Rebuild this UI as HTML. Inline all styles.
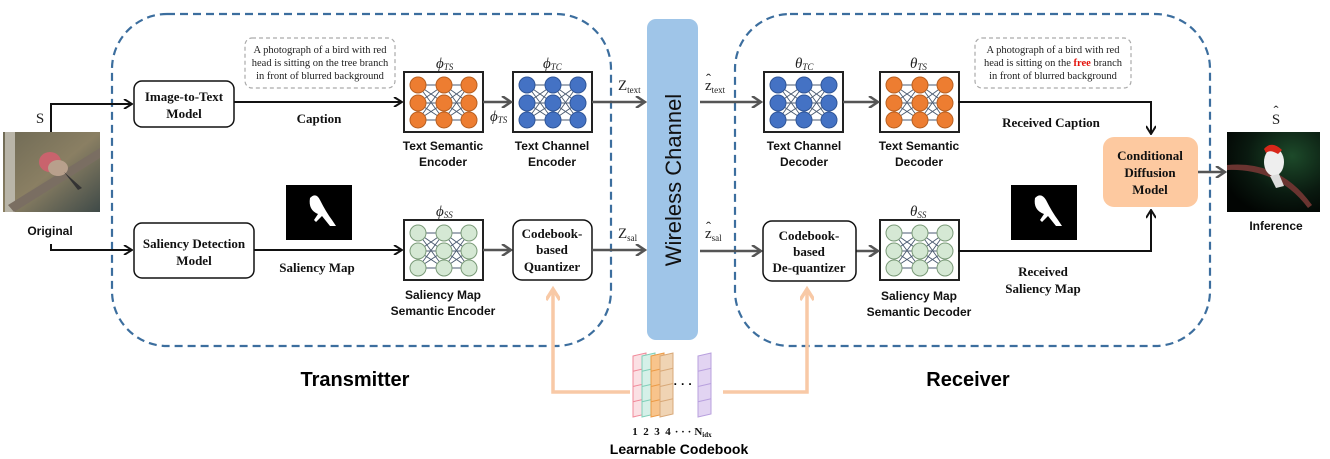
<!DOCTYPE html>
<html><head><meta charset="utf-8"><style>
html,body{margin:0;padding:0;background:#fff;}
svg{display:block;}
.sb{font-family:"Liberation Serif",serif;font-weight:bold;font-size:13px;fill:#111;}
.sa{font-family:"Liberation Sans",sans-serif;font-weight:bold;font-size:12px;fill:#111;}
.cap{font-family:"Liberation Serif",serif;font-size:10.5px;fill:#222;}
.it{font-family:"Liberation Serif",serif;font-style:italic;font-size:15px;fill:#222;}
.sub{font-size:9px;}
.z{font-family:"Liberation Serif",serif;font-size:15px;fill:#222;}
</style></head><body>
<svg width="1330" height="459" viewBox="0 0 1330 459" xmlns="http://www.w3.org/2000/svg">
<defs>
<marker id="ab" markerWidth="10" markerHeight="10" refX="9" refY="5" orient="auto" markerUnits="userSpaceOnUse"><path d="M1,0 L9,5 L1,10" fill="none" stroke="#111" stroke-width="2"/></marker>
<marker id="ag" markerWidth="12" markerHeight="12" refX="10" refY="6" orient="auto" markerUnits="userSpaceOnUse"><path d="M1,0 L10,6 L1,12" fill="none" stroke="#555" stroke-width="2.5"/></marker>
<marker id="ap" markerWidth="16" markerHeight="14" refX="12" refY="7" orient="auto" markerUnits="userSpaceOnUse"><path d="M1,0 L12,7 L1,14" fill="none" stroke="#f8c9a6" stroke-width="3.5"/></marker>
<linearGradient id="bg1" x1="0" y1="0" x2="1" y2="1"><stop offset="0" stop-color="#6f6a55"/><stop offset="0.5" stop-color="#8a7f63"/><stop offset="1" stop-color="#3f4a48"/></linearGradient>
<radialGradient id="bg2" cx="0.7" cy="0.3" r="0.8"><stop offset="0" stop-color="#1d4a2a"/><stop offset="0.6" stop-color="#0a1a10"/><stop offset="1" stop-color="#020503"/></radialGradient>
</defs>

<rect x="112" y="14" width="499" height="332" rx="55" fill="none" stroke="#3c6e9e" stroke-width="2.2" stroke-dasharray="8,5"/>
<rect x="735" y="14" width="475" height="332" rx="55" fill="none" stroke="#3c6e9e" stroke-width="2.2" stroke-dasharray="8,5"/>

<rect x="647" y="19" width="51" height="321" rx="9" fill="#9fc5e8"/>
<text transform="translate(681,180) rotate(-90)" text-anchor="middle" font-family="Liberation Sans,sans-serif" font-size="22" fill="#111">Wireless Channel</text>

<rect x="3" y="132" width="97" height="80" fill="url(#bg1)"/>
<rect x="5" y="132" width="10" height="80" fill="#b9b5a8"/>
<path d="M8,205 L100,148 L100,158 L14,212 Z" fill="#7a6e62"/>
<ellipse cx="50" cy="162" rx="11" ry="10" fill="#c9636d"/>
<ellipse cx="58" cy="168" rx="10" ry="8" fill="#b8a08c"/>
<path d="M64,172 L82,188 L78,190 Z" fill="#333"/>
<text x="40" y="123" text-anchor="middle" class="z" font-size="15">S</text>
<text x="50" y="235" text-anchor="middle" class="sa">Original</text>

<rect x="1227" y="132" width="93" height="80" fill="url(#bg2)"/>
<path d="M1227,165 Q1280,160 1312,205 L1308,208 Q1278,168 1227,170 Z" fill="#6a3430"/>
<ellipse cx="1274" cy="162" rx="10" ry="14" fill="#eee"/>
<path d="M1264,149 Q1272,140 1282,150 L1278,154 Q1270,149 1266,153 Z" fill="#d8271a"/>
<path d="M1270,176 L1276,188 L1284,186 L1279,174 Z" fill="#ddd"/>
<text x="1276" y="124" text-anchor="middle" class="z" font-size="15">S</text>
<text x="1276" y="116" text-anchor="middle" class="z" font-size="13">ˆ</text>
<text x="1276" y="230" text-anchor="middle" class="sa">Inference</text>

<polyline points="51,132 51,104 132,104" fill="none" stroke="#111" stroke-width="2" marker-end="url(#ab)"/>
<polyline points="51,244 51,250 132,250" fill="none" stroke="#111" stroke-width="2" marker-end="url(#ab)"/>

<rect x="134" y="81" width="100" height="46" rx="8" fill="#fff" stroke="#111" stroke-width="1.5"/>
<text x="184" y="101" text-anchor="middle" class="sb">Image-to-Text</text>
<text x="184" y="118" text-anchor="middle" class="sb">Model</text>

<rect x="134" y="223" width="120" height="55" rx="8" fill="#fff" stroke="#111" stroke-width="1.5"/>
<text x="194" y="248" text-anchor="middle" class="sb">Saliency Detection</text>
<text x="194" y="265" text-anchor="middle" class="sb">Model</text>

<rect x="245" y="38" width="150" height="50" rx="7" fill="none" stroke="#aaa" stroke-width="1.2" stroke-dasharray="4,3"/>
<text x="320" y="53" text-anchor="middle" class="cap">A photograph of a bird with red</text>
<text x="320" y="66" text-anchor="middle" class="cap">head is sitting on the tree branch</text>
<text x="320" y="79" text-anchor="middle" class="cap">in front of blurred background</text>

<line x1="234" y1="102" x2="402" y2="102" stroke="#111" stroke-width="2" marker-end="url(#ab)"/>
<text x="319" y="123" text-anchor="middle" class="sb">Caption</text>

<rect x="286" y="185" width="66" height="55" fill="#000"/>
<path d="M310,198 Q316,192 320,200 Q326,212 332,220 L336,226 L330,226 L322,216 L316,222 L314,220 L318,214 Q308,210 310,198 Z" fill="#fff"/>
<line x1="254" y1="250" x2="402" y2="250" stroke="#111" stroke-width="2" marker-end="url(#ab)"/>
<text x="317" y="272" text-anchor="middle" class="sb">Saliency Map</text>

<g id="nets"></g>

<text x="443" y="150" text-anchor="middle" class="sa">Text Semantic</text>
<text x="443" y="166" text-anchor="middle" class="sa">Encoder</text>
<text x="552" y="150" text-anchor="middle" class="sa">Text Channel</text>
<text x="552" y="166" text-anchor="middle" class="sa">Encoder</text>
<text x="443" y="299" text-anchor="middle" class="sa">Saliency Map</text>
<text x="443" y="315" text-anchor="middle" class="sa">Semantic Encoder</text>

<text x="436" y="68" class="it">ϕ<tspan class="sub" dy="2">TS</tspan></text>
<text x="543" y="68" class="it">ϕ<tspan class="sub" dy="2">TC</tspan></text>
<text x="490" y="121" class="it">ϕ<tspan class="sub" dy="2">TS</tspan></text>
<text x="436" y="216" class="it">ϕ<tspan class="sub" dy="2">SS</tspan></text>

<line x1="483" y1="102" x2="511" y2="102" stroke="#555" stroke-width="2.5" marker-end="url(#ag)"/>
<line x1="483" y1="250" x2="511" y2="250" stroke="#555" stroke-width="2.5" marker-end="url(#ag)"/>

<rect x="513" y="220" width="79" height="60" rx="9" fill="#fff" stroke="#111" stroke-width="1.5"/>
<text x="552" y="238" text-anchor="middle" class="sb">Codebook-</text>
<text x="552" y="254" text-anchor="middle" class="sb">based</text>
<text x="552" y="271" text-anchor="middle" class="sb">Quantizer</text>

<line x1="592" y1="102" x2="645" y2="102" stroke="#555" stroke-width="2.5" marker-end="url(#ag)"/>
<line x1="592" y1="250" x2="645" y2="250" stroke="#555" stroke-width="2.5" marker-end="url(#ag)"/>
<text x="618" y="90" class="z">Z<tspan class="sub" font-size="11" dy="3">text</tspan></text>
<text x="618" y="238" class="z">Z<tspan class="sub" font-size="11" dy="3">sal</tspan></text>

<line x1="700" y1="102" x2="761" y2="102" stroke="#555" stroke-width="2.5" marker-end="url(#ag)"/>
<line x1="700" y1="251" x2="761" y2="251" stroke="#555" stroke-width="2.5" marker-end="url(#ag)"/>
<text x="705" y="90" class="z">z<tspan class="sub" font-size="11" dy="3">text</tspan></text>
<text x="706" y="84" class="z" font-size="13">ˆ</text>
<text x="705" y="238" class="z">z<tspan class="sub" font-size="11" dy="3">sal</tspan></text>
<text x="706" y="232" class="z" font-size="13">ˆ</text>

<line x1="843" y1="102" x2="878" y2="102" stroke="#555" stroke-width="2.5" marker-end="url(#ag)"/>
<line x1="856" y1="251" x2="878" y2="251" stroke="#555" stroke-width="2.5" marker-end="url(#ag)"/>

<rect x="763" y="221" width="93" height="60" rx="9" fill="#fff" stroke="#111" stroke-width="1.5"/>
<text x="809" y="240" text-anchor="middle" class="sb">Codebook-</text>
<text x="809" y="256" text-anchor="middle" class="sb">based</text>
<text x="809" y="272" text-anchor="middle" class="sb">De-quantizer</text>

<text x="795" y="68" class="it">θ<tspan class="sub" dy="2">TC</tspan></text>
<text x="910" y="68" class="it">θ<tspan class="sub" dy="2">TS</tspan></text>
<text x="910" y="216" class="it">θ<tspan class="sub" dy="2">SS</tspan></text>

<text x="804" y="150" text-anchor="middle" class="sa">Text Channel</text>
<text x="804" y="166" text-anchor="middle" class="sa">Decoder</text>
<text x="919" y="150" text-anchor="middle" class="sa">Text Semantic</text>
<text x="919" y="166" text-anchor="middle" class="sa">Decoder</text>
<text x="919" y="300" text-anchor="middle" class="sa">Saliency Map</text>
<text x="919" y="316" text-anchor="middle" class="sa">Semantic Decoder</text>

<rect x="975" y="38" width="156" height="50" rx="7" fill="none" stroke="#aaa" stroke-width="1.2" stroke-dasharray="4,3"/>
<text x="1053" y="53" text-anchor="middle" class="cap">A photograph of a bird with red</text>
<text x="1053" y="66" text-anchor="middle" class="cap">head is sitting on the <tspan fill="#e3120b" font-weight="bold">free</tspan> branch</text>
<text x="1053" y="79" text-anchor="middle" class="cap">in front of blurred background</text>

<polyline points="958,102 1151,102 1151,134" fill="none" stroke="#111" stroke-width="2" marker-end="url(#ab)"/>
<polyline points="958,251 1151,251 1151,210" fill="none" stroke="#111" stroke-width="2" marker-end="url(#ab)"/>
<text x="1051" y="127" text-anchor="middle" class="sb">Received Caption</text>
<text x="1043" y="276" text-anchor="middle" class="sb">Received</text>
<text x="1043" y="293" text-anchor="middle" class="sb">Saliency Map</text>

<rect x="1011" y="185" width="66" height="55" fill="#000"/>
<path d="M1035,198 Q1041,192 1046,200 Q1052,212 1058,220 L1062,226 L1056,226 L1048,216 L1042,222 L1040,220 L1044,214 Q1033,210 1035,198 Z" fill="#fff"/>

<rect x="1103" y="137" width="95" height="70" rx="11" fill="#fdc9a0"/>
<text x="1150" y="160" text-anchor="middle" class="sb">Conditional</text>
<text x="1150" y="177" text-anchor="middle" class="sb">Diffusion</text>
<text x="1150" y="194" text-anchor="middle" class="sb">Model</text>
<line x1="1198" y1="172" x2="1225" y2="172" stroke="#555" stroke-width="2.5" marker-end="url(#ag)"/>

<polyline points="630,392 553,392 553,289" fill="none" stroke="#f8c9a6" stroke-width="3.5" marker-end="url(#ap)"/>
<polyline points="723,392 807,392 807,289" fill="none" stroke="#f8c9a6" stroke-width="3.5" marker-end="url(#ap)"/>

<g id="cb"></g>
<text x="683" y="388" text-anchor="middle" font-family="Liberation Sans,sans-serif" font-size="12" font-weight="bold">· · ·</text>
<g font-family="Liberation Serif,serif" font-weight="bold" font-size="11" fill="#111" text-anchor="middle">
<text x="635" y="435">1</text><text x="646" y="435">2</text><text x="657" y="435">3</text><text x="668" y="435">4</text>
<text x="683" y="435">· · ·</text><text x="703" y="435">N<tspan font-size="7" dy="2">idx</tspan></text>
</g>
<text x="679" y="454" text-anchor="middle" font-family="Liberation Sans,sans-serif" font-weight="bold" font-size="14">Learnable Codebook</text>

<text x="355" y="386" text-anchor="middle" font-family="Liberation Sans,sans-serif" font-weight="bold" font-size="20">Transmitter</text>
<text x="968" y="386" text-anchor="middle" font-family="Liberation Sans,sans-serif" font-weight="bold" font-size="20">Receiver</text>
</svg>
<script>
(function(){
var NS="http://www.w3.org/2000/svg";
var g=document.getElementById("nets");
function el(t,a){var e=document.createElementNS(NS,t);for(var k in a)e.setAttribute(k,a[k]);return e;}
function net(x,y,fill,stroke){
 g.appendChild(el("rect",{x:x,y:y,width:79,height:60,fill:"#fff",stroke:"#222","stroke-width":2}));
 var cx=[x+14,x+40,x+65],cy=[y+13,y+31,y+48];
 for(var c=0;c<2;c++)for(var i=0;i<3;i++)for(var j=0;j<3;j++)
  g.appendChild(el("line",{x1:cx[c],y1:cy[i],x2:cx[c+1],y2:cy[j],stroke:"#4a5a70","stroke-width":0.9}));
 for(var c=0;c<3;c++)for(var i=0;i<3;i++)
  g.appendChild(el("circle",{cx:cx[c],cy:cy[i],r:8,fill:fill,stroke:stroke,"stroke-width":1}));
}
var O="#ed7d31",B="#4472c4",G="#d5e8d4";
net(404,72,O,"#b85f20");net(513,72,B,"#2f5597");net(404,220,G,"#7a9a78");
net(764,72,B,"#2f5597");net(880,72,O,"#b85f20");net(880,220,G,"#7a9a78");
var cb=document.getElementById("cb");
function col(x,fill,stroke){
 var p="M"+x+",356 L"+(x+13)+",353 L"+(x+13)+",414 L"+x+",417 Z";
 cb.appendChild(el("path",{d:p,fill:fill,stroke:stroke,"stroke-width":1}));
 for(var k=1;k<4;k++){var yy=356+k*15.25;cb.appendChild(el("line",{x1:x,y1:yy,x2:x+13,y2:yy-3,stroke:stroke,"stroke-width":1}));}
}
col(633,"#fbe0e4","#f08a9a");col(642,"#d5f0e8","#7fcfb8");col(651,"#f8c48c","#ec9a45");col(660,"#f0d4b4","#d8a878");col(698,"#e2d4f2","#b8a0de");
})();
</script>
</body></html>
